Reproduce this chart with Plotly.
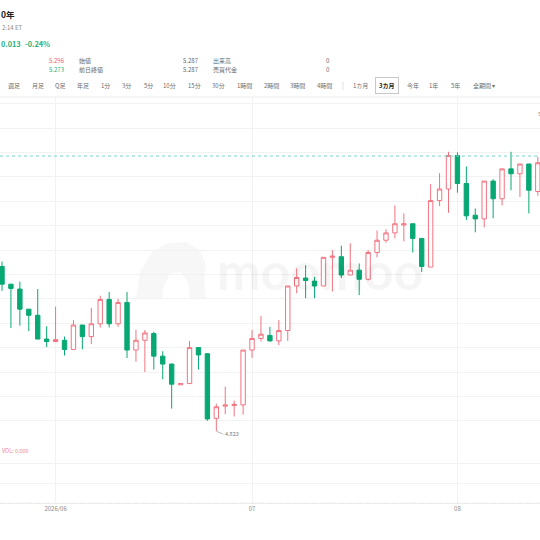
import plotly.graph_objects as go
import pandas as pd

# ---- data ----
dates = pd.bdate_range("2026-05-22", periods=61).strftime("%Y-%m-%d").tolist()

open_ = [5.093, 5.064, 5.056, 5.023, 5.013, 4.974, 4.970, 4.972, 4.957, 4.997,
         4.978, 4.999, 5.039, 4.999, 5.034, 4.956, 4.972, 4.983, 4.946, 4.933,
         4.899, 4.901, 4.960, 4.950, 4.844, 4.864, 4.865, 4.866, 4.956, 4.975,
         4.980, 4.971, 4.988, 5.061, 5.074, 5.069, 5.061, 5.108, 5.109, 5.079,
         5.087, 5.072, 5.116, 5.136, 5.148, 5.161, 5.163, 5.139, 5.092, 5.201,
         5.220, 5.275, 5.229, 5.177, 5.171, 5.233, 5.204, 5.253, 5.245, 5.261,
         5.216]
high = [5.101, 5.064, 5.068, 5.023, 5.056, 4.995, 5.027, 4.978, 5.005, 4.997,
        5.025, 5.045, 5.051, 5.040, 5.051, 4.989, 4.989, 4.986, 4.954, 4.934,
        4.901, 4.971, 4.961, 4.951, 4.868, 4.896, 4.873, 4.956, 4.989, 5.012,
        4.994, 5.005, 5.061, 5.090, 5.095, 5.076, 5.108, 5.120, 5.127, 5.131,
        5.098, 5.120, 5.152, 5.154, 5.193, 5.180, 5.163, 5.139, 5.228, 5.246,
        5.281, 5.280, 5.257, 5.188, 5.233, 5.236, 5.253, 5.281, 5.261, 5.261,
        5.273]
low = [5.053, 4.992, 4.996, 4.987, 4.974, 4.961, 4.969, 4.947, 4.957, 4.957,
       4.966, 4.993, 4.993, 4.994, 4.943, 4.937, 4.920, 4.924, 4.908, 4.860,
       4.899, 4.901, 4.924, 4.840, 4.823, 4.851, 4.847, 4.850, 4.943, 4.970,
       4.970, 4.964, 4.971, 5.049, 5.041, 5.041, 5.061, 5.052, 5.074, 5.079,
       5.046, 5.070, 5.108, 5.132, 5.139, 5.134, 5.116, 5.084, 5.092, 5.192,
       5.181, 5.214, 5.169, 5.149, 5.157, 5.172, 5.193, 5.218, 5.207, 5.180,
       5.209]
close = [5.064, 5.057, 5.023, 5.013, 4.974, 4.970, 4.973, 4.957, 4.997, 4.978,
         4.999, 5.039, 4.999, 5.034, 4.956, 4.972, 4.984, 4.946, 4.933, 4.900,
         4.901, 4.960, 4.948, 4.843, 4.863, 4.866, 4.867, 4.956, 4.975, 4.982,
         4.971, 4.988, 5.061, 5.075, 5.070, 5.061, 5.108, 5.110, 5.079, 5.087,
         5.072, 5.116, 5.136, 5.148, 5.163, 5.163, 5.139, 5.093, 5.201, 5.220,
         5.275, 5.229, 5.176, 5.171, 5.233, 5.204, 5.253, 5.245, 5.261, 5.218,
         5.263]
volume = [0] * 61

month_ticks = ["2026-06-01", "2026-07-01", "2026-08-03"]
month_labels = ["2026/06", "07", "08"]
last_price = 5.274
period_low = 4.823
period_high_label = "5.343"

header_row1 = [("5.296", "red"), ("始値", "lab"), ("5.287", "lab"), ("出来高", "lab"), ("0", "lab")]
header_row2 = [("5.273", "green"), ("前日終値", "lab"), ("5.287", "lab"), ("売買代金", "lab"), ("0", "lab")]
toolbar = ["週足", "月足", "Q足", "年足", "1分", "3分", "5分", "10分", "15分", "30分",
           "1時間", "2時間", "3時間", "4時間", "1カ月", "3カ月", "今年", "1年", "5年", "全期間 ▾"]

# ---- style ----
W = H = 540
RED = "#f27380"
GREEN = "#07a873"
TXT_GREEN = "#1db07e"
GRID = "#f2f2f2"
LAB = "#6b6b6b"
FONT = "Noto Sans CJK JP, Noto Sans, sans-serif"


def px(x):
    return x / W


def py(y):
    return 1 - y / H


fig = go.Figure()
fig.add_trace(go.Candlestick(
    x=dates, open=open_, high=high, low=low, close=close,
    increasing=dict(line=dict(color=RED, width=1), fillcolor="white"),
    decreasing=dict(line=dict(color=GREEN, width=1), fillcolor=GREEN),
    whiskerwidth=0, xaxis="x", yaxis="y", showlegend=False, hoverinfo="skip"))
fig.add_trace(go.Bar(x=dates, y=volume, xaxis="x", yaxis="y2",
                     marker_color=RED, showlegend=False, hoverinfo="skip"))

ann = []


def text(x, y, s, size=6, color=LAB, anchor="left", bold=False, **kw):
    ann.append(dict(x=px(x), y=py(y), xref="paper", yref="paper", text=("<b>%s</b>" % s) if bold else s,
                    showarrow=False, xanchor=anchor, yanchor="middle",
                    font=dict(size=size, color=color, family=FONT), **kw))


# header
text(-1, 14, "0年", size=8.5, color="#222222", bold=True)
text(0, 27.5, "2:14 ET", size=6, color="#8a8a8a")
text(-1, 44, "0.013", size=7.3, color=TXT_GREEN, bold=True)
text(22.5, 44, "-0.24%", size=7.3, color=TXT_GREEN, bold=True)
cols = [47, 77, 181, 211, 328]
colmap = {"red": "#f0606c", "green": TXT_GREEN, "lab": LAB}
for row_y, row in ((60, header_row1), (69.5, header_row2)):
    for cx, (s, c) in zip(cols, row):
        if s == "0":
            text(cx, row_y, s, size=6, color=colmap[c], anchor="center")
        else:
            text(cx, row_y, s, size=6, color=colmap[c])

# toolbar
tb_x = [14, 38, 60, 82.5, 105, 126, 148, 169.5, 194, 218.5, 244.5, 271, 297.5, 324.5,
        360, 386.5, 412.5, 433.5, 455.5, 484]
for cx, s in zip(tb_x, toolbar):
    if s == "3カ月":
        text(cx, 86, s, size=6, color="#222222", anchor="center", bold=True,
             bordercolor="#c8c8c8", borderwidth=1, borderpad=3)
    else:
        text(cx, 86, s, size=6, color=LAB, anchor="center")

# chart labels
text(0, 451, "VOL: 0.000", size=5.5, color="#f4858f")
text(536, 114, period_high_label, size=5.5, color="#8a8a8a")
ann.append(dict(x=24, y=period_low, xref="x", yref="y", text=str(period_low), showarrow=True,
                ax=7, ay=3, axref="pixel", ayref="pixel", xanchor="left", yanchor="middle",
                arrowhead=0, arrowwidth=0.7, arrowcolor="#9a9a9a", standoff=0, startstandoff=0,
                font=dict(size=5.5, color="#7a7a7a", family=FONT)))
# watermark
ann.append(dict(x=px(320), y=py(270), xref="paper", yref="paper", text="<b>moomoo</b>",
                showarrow=False, xanchor="center", yanchor="middle",
                font=dict(size=52, color="rgba(0,0,0,0.04)", family="Lato")))

shapes = [
    dict(type="line", xref="paper", yref="paper", x0=0, x1=1, y0=py(97), y1=py(97),
         line=dict(color="#ebebeb", width=1)),
    dict(type="line", xref="paper", yref="paper", x0=px(343), x1=px(343), y0=py(82), y1=py(90),
         line=dict(color="#e0e0e0", width=1)),
    dict(type="line", xref="paper", yref="y", x0=0, x1=1, y0=last_price, y1=last_price,
         line=dict(color="#74d6c6", width=1, dash="dot")),
]

# faint watermark logo (bull head silhouette), in paper coordinates
logo_pts = [(136, 298), (140, 272), (152, 252), (168, 243), (186, 242), (200, 250),
            (206, 264), (204, 280), (206, 298), (190, 298), (188, 282), (180, 272),
            (170, 274), (164, 286), (162, 298)]
path = "M " + " L ".join("%.4f %.4f" % (px(x), py(y)) for x, y in logo_pts) + " Z"
shapes.append(dict(type="path", xref="paper", yref="paper", path=path,
                   fillcolor="rgba(0,0,0,0.03)", line=dict(width=0), layer="below"))

fig.update_layout(
    width=W, height=H, margin=dict(l=0, r=0, t=0, b=0),
    paper_bgcolor="white", plot_bgcolor="white",
    font=dict(family=FONT),
    showlegend=False, hovermode=False, bargap=0.3,
    xaxis=dict(type="category", range=[-0.224, 60.247], anchor="y2",
               tickmode="array", tickvals=month_ticks, ticktext=month_labels,
               showgrid=True, gridcolor=GRID, gridwidth=1, ticks="",
               showline=True, linecolor="#ececec", linewidth=1,
               tickfont=dict(size=6, color="#8a8a8a", family=FONT),
               rangeslider=dict(visible=False), fixedrange=True),
    yaxis=dict(domain=[py(444), py(97)], range=[4.80197, 5.37082],
               tick0=4.84, dtick=0.04, showticklabels=False, showgrid=True,
               gridcolor=GRID, zeroline=False, fixedrange=True),
    yaxis2=dict(domain=[py(503), py(444)], range=[0, 3], dtick=1,
                showticklabels=False, showgrid=True, gridcolor=GRID,
                zeroline=False, fixedrange=True),
    annotations=ann, shapes=shapes,
)

fig.write_html("out.html", config={"displayModeBar": False},
               post_script="document.body.style.margin='0';document.body.style.overflow='hidden';")
